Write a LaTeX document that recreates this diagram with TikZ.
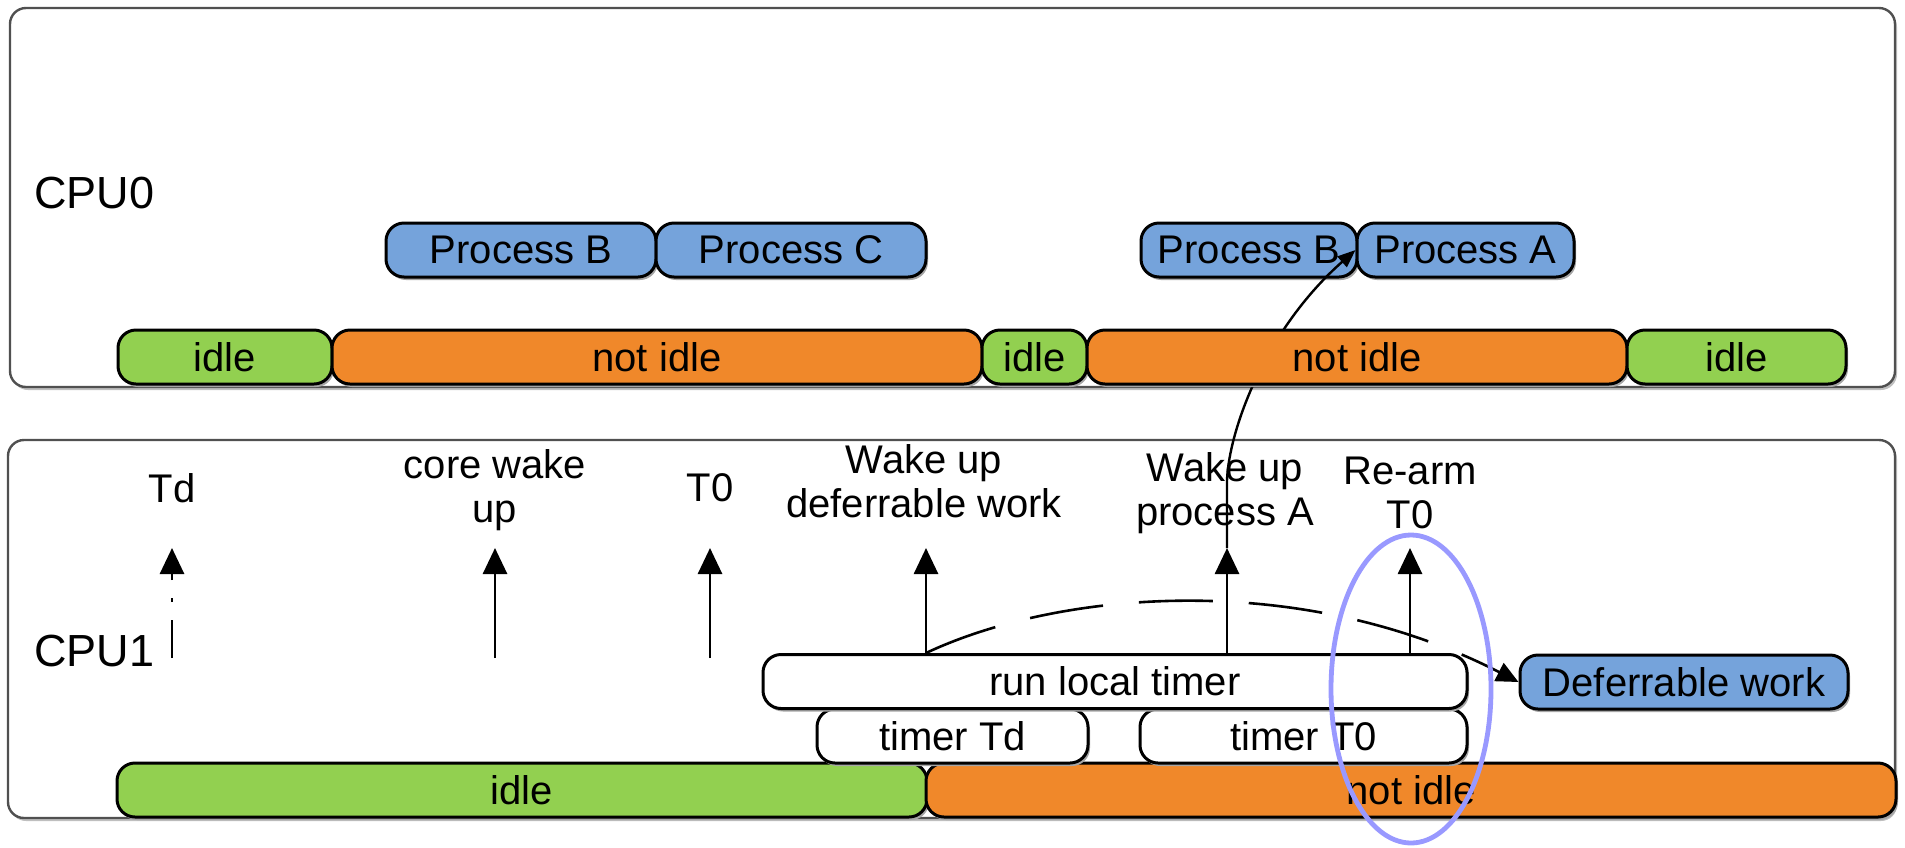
\documentclass[tikz,border=0pt]{standalone}
\usepackage{fontspec}
\setmainfont{Liberation Sans}
\usetikzlibrary{arrows.meta}
\usetikzlibrary{shapes.geometric}
\usetikzlibrary{shadows}
\definecolor{procblue}{RGB}{117,163,219}
\definecolor{idlegreen}{RGB}{146,208,80}
\definecolor{busyorange}{RGB}{240,136,42}
\definecolor{ringblue}{RGB}{153,153,255}
\definecolor{framegray}{RGB}{80,80,80}
\tikzset{seg/.style={draw=black, line width=1.5pt, rounded corners=9pt,
    minimum height=27pt, inner sep=0pt, font=\fontsize{20}{22}\selectfont,
    drop shadow={shadow xshift=1pt, shadow yshift=-1.5pt, fill=black!35, opacity=1}}}
\tikzset{idle/.style={seg, fill=idlegreen}}
\tikzset{busy/.style={seg, fill=busyorange}}
\tikzset{proc/.style={seg, fill=procblue}}
\tikzset{tmr/.style={seg, fill=white}}
\tikzset{evt/.style={-{Triangle[length=13pt,width=12pt]}, line width=1.4pt}}
\tikzset{evtlabel/.style={align=center, font=\fontsize{20}{22}\selectfont}}
\tikzset{cpu/.style={anchor=west, font=\fontsize{22.5}{26}\selectfont}}
\tikzset{ring/.style={ellipse, draw=ringblue, line width=2.4pt,
    minimum width=80pt, minimum height=154pt, inner sep=0pt}}
\newcommand{\cpuframe}[2]{
    \draw[framegray, line width=1.2pt, rounded corners=8pt, fill=white,
        drop shadow={shadow xshift=1pt, shadow yshift=-1.5pt, fill=black!25, opacity=1}]
        #1 rectangle #2;
}

\begin{document}
\begin{tikzpicture}[x=0.5pt,y=-0.5pt]
        \useasboundingbox (0,0) rectangle (1905,847);
        \cpuframe{(10,8)}{(1895,387)}
        \cpuframe{(8,440)}{(1895,818)}

        \node[cpu] (cpu0) at (27,193) {CPU0};
        \node[cpu] (cpu1) at (27,651) {CPU1};

        \node[proc, minimum width=135pt] (pb1) at (521,250) {Process B};
        \node[proc, minimum width=135pt] (pc) at (791,250) {Process C};
        \node[proc, minimum width=108pt] (pb2) at (1249,250) {Process B};
        \node[proc, minimum width=108.5pt] (pa) at (1465.5,250) {Process A};

        % wake up of process A reaches over to CPU0
        \coordinate (wpatip) at (1227,548);
        \coordinate (wpabend) at (1227,480);
        \draw[line width=1.2pt, -{Triangle[length=9pt,width=7pt]}] (wpatip) -- (wpabend)
            .. controls (1229,430) and (1265,330) .. (pa.west);

        \node[idle, minimum width=107pt] (i0a) at (225,357) {idle};
        \node[busy, minimum width=325pt] (n0a) at (657,357) {not idle};
        \node[idle, minimum width=52.5pt] (i0b) at (1034.5,357) {idle};
        \node[busy, minimum width=270pt] (n0b) at (1357,357) {not idle};
        \node[idle, minimum width=109.5pt] (i0c) at (1736.5,357) {idle};

        \node[idle, minimum width=405pt] (i1) at (522,790) {idle};
        \node[busy, minimum width=485pt] (n1) at (1411,790) {not idle};

        \node[tmr, minimum width=135.5pt] (ttd) at (952.5,736) {timer Td};
        \node[tmr, minimum width=163.5pt] (tt0) at (1303.5,736) {timer T0};
        \node[tmr, minimum width=352pt] (rlt) at (1115,681.5) {run local timer};
        \node[proc, minimum width=164pt] (dw) at (1684,682) {Deferrable work};

        \node[evtlabel] (ltd) at (172,488) {Td};
        \node[evtlabel] (lcwu) at (495,490) {core wake\\up};
        \node[evtlabel] (lt0) at (710,488) {T0};
        \node[evtlabel] (ldw) at (924,481) {Wake up\\deferrable work};
        \node[evtlabel] (lwpa) at (1225,493) {Wake up\\process A};
        \node[evtlabel] (lra) at (1410,493) {Re-arm\\T0};

        \coordinate (tdbase) at (172,658);
        \coordinate (tdtip) at (172,548);
        \coordinate (cwubase) at (495,658);
        \coordinate (cwutip) at (495,548);
        \coordinate (t0base) at (710,658);
        \coordinate (t0tip) at (710,548);
        \coordinate (dwtip) at (926,548);
        \coordinate (ratip) at (1410,548);

        \draw[evt, dash pattern=on 19pt off 9pt on 2pt off 9pt on 30pt] (tdbase) -- (tdtip);
        \draw[evt] (cwubase) -- (cwutip);
        \draw[evt] (t0base) -- (t0tip);
        \draw[evt] (rlt.north -| dwtip) -- (dwtip);
        \draw[evt] (rlt.north -| wpatip) -- (wpatip);
        \draw[evt] (rlt.north -| ratip) -- (ratip);

        \draw[line width=1.3pt, dash pattern=on 37pt off 18pt,
            -{Triangle[length=11pt,width=10pt]}]
            (rlt.north -| dwtip) .. controls (1060,590) and (1300,570) .. (dw.west);

        \node[ring] (hl) at (1411,689) {};
\end{tikzpicture}
\end{document}
